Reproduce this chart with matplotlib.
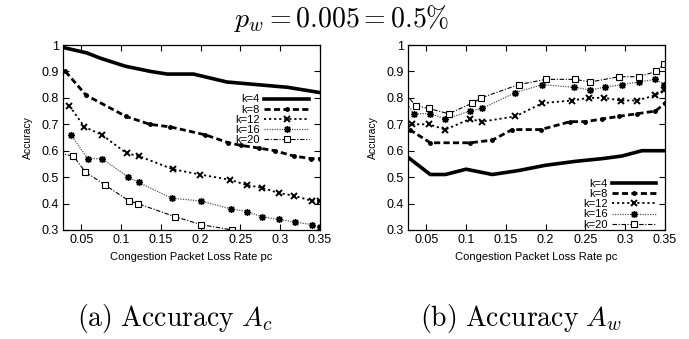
import matplotlib
matplotlib.use("Agg")
import matplotlib.pyplot as plt

plt.rcParams["font.family"] = ["Liberation Sans", "DejaVu Sans"]
plt.rcParams["mathtext.fontset"] = "cm"

# ---- (a) Accuracy A_c ----
ac_x_k4 = [0.028, 0.057, 0.074, 0.105, 0.137, 0.158, 0.191, 0.233, 0.271, 0.309, 0.35]
ac_k4 = [0.99, 0.97, 0.95, 0.92, 0.90, 0.89, 0.89, 0.86, 0.85, 0.84, 0.82]
ac_x_k8 = [0.030, 0.056, 0.106, 0.136, 0.162, 0.206, 0.235, 0.251, 0.273, 0.293, 0.317, 0.339, 0.35]
ac_k8 = [0.90, 0.81, 0.73, 0.70, 0.69, 0.66, 0.63, 0.62, 0.61, 0.60, 0.58, 0.57, 0.57]
ac_x_k12 = [0.035, 0.054, 0.076, 0.107, 0.122, 0.165, 0.199, 0.237, 0.258, 0.277, 0.298, 0.317, 0.340, 0.35]
ac_k12 = [0.77, 0.69, 0.66, 0.59, 0.58, 0.53, 0.51, 0.49, 0.47, 0.46, 0.44, 0.43, 0.41, 0.41]
ac_x_k16 = [0.037, 0.058, 0.076, 0.109, 0.122, 0.164, 0.200, 0.238, 0.258, 0.277, 0.298, 0.319, 0.340, 0.35]
ac_k16 = [0.66, 0.57, 0.57, 0.50, 0.48, 0.42, 0.41, 0.38, 0.37, 0.35, 0.34, 0.33, 0.32, 0.31]
ac_x_k20 = [0.022, 0.040, 0.055, 0.080, 0.110, 0.121, 0.168, 0.201, 0.240, 0.258]
ac_k20 = [0.59, 0.58, 0.52, 0.47, 0.41, 0.40, 0.35, 0.32, 0.30, 0.29]

# ---- (b) Accuracy A_w ----
aw_x_k4 = [0.027, 0.055, 0.074, 0.100, 0.133, 0.166, 0.200, 0.238, 0.271, 0.296, 0.321, 0.35]
aw_k4 = [0.575, 0.51, 0.51, 0.53, 0.51, 0.525, 0.545, 0.56, 0.57, 0.58, 0.60, 0.60]
aw_x_k8 = [0.029, 0.055, 0.105, 0.133, 0.158, 0.194, 0.231, 0.250, 0.271, 0.292, 0.315, 0.338, 0.35]
aw_k8 = [0.68, 0.63, 0.63, 0.64, 0.68, 0.68, 0.71, 0.71, 0.72, 0.73, 0.74, 0.75, 0.78]
aw_x_k12 = [0.032, 0.053, 0.074, 0.105, 0.120, 0.162, 0.196, 0.233, 0.254, 0.273, 0.295, 0.315, 0.338, 0.349]
aw_k12 = [0.70, 0.70, 0.68, 0.72, 0.71, 0.73, 0.78, 0.79, 0.80, 0.80, 0.79, 0.79, 0.81, 0.83]
aw_x_k16 = [0.022, 0.034, 0.055, 0.074, 0.105, 0.120, 0.162, 0.196, 0.236, 0.256, 0.274, 0.296, 0.317, 0.338, 0.349]
aw_k16 = [0.80, 0.74, 0.74, 0.72, 0.75, 0.76, 0.82, 0.85, 0.84, 0.83, 0.84, 0.85, 0.86, 0.87, 0.85]
aw_x_k20 = [0.022, 0.037, 0.053, 0.078, 0.108, 0.119, 0.166, 0.200, 0.237, 0.256, 0.292, 0.317, 0.339, 0.349]
aw_k20 = [0.82, 0.77, 0.76, 0.74, 0.78, 0.80, 0.85, 0.87, 0.87, 0.86, 0.88, 0.88, 0.90, 0.93]

labels = ["k=4", "k=8", "k=12", "k=16", "k=20"]
x_ticks = [0.05, 0.1, 0.15, 0.2, 0.25, 0.3, 0.35]
x_tick_labels = ["0.05", "0.1", "0.15", "0.2", "0.25", "0.3", "0.35"]
y_ticks = [0.3, 0.4, 0.5, 0.6, 0.7, 0.8, 0.9, 1.0]
y_tick_labels = ["0.3", "0.4", "0.5", "0.6", "0.7", "0.8", "0.9", "1"]

styles = [
    dict(color="black", lw=2.6, ls="-", marker=None),
    dict(color="black", lw=2.0, ls=(0, (2.2, 1.2)), marker="o", ms=2.5),
    dict(color="black", lw=1.3, ls=(0, (1.2, 1.6)), marker="x", ms=4.5, mew=1.4),
    dict(color="#555555", lw=0.9, ls=(0, (1, 1)), marker=(8, 2, 0), ms=5, mew=1.0, mec="black"),
    dict(color="black", lw=0.8, ls=(0, (4, 1.5, 1, 1.5)), marker="s", ms=4.5, mfc="white", mew=0.8),
]

W, H = 689, 339
fig = plt.figure(figsize=(W / 100, H / 100), dpi=100)

legend_anchor = {"upper right": (0.965, 0.745), "lower right": (0.975, -0.01)}


def make_axes(left_px, legend_loc, xs, ys):
    ax = fig.add_axes([left_px / W, 1 - 230 / H, 257 / W, 185 / H])
    handles = []
    for x, y, lab, st in zip(xs, ys, labels, styles):
        h, = ax.plot(x, y, label=lab, **st)
        handles.append(h)
    ax.set_xlim(0.027, 0.35)
    ax.set_ylim(0.3, 1.0)
    ax.set_xticks(x_ticks)
    ax.set_xticklabels(x_tick_labels)
    ax.set_yticks(y_ticks)
    ax.set_yticklabels(y_tick_labels)
    ax.tick_params(direction="in", top=True, right=True, length=4, width=0.8,
                   labelsize=9, pad=3)
    for s in ax.spines.values():
        s.set_linewidth(0.9)
    ax.set_xlabel("Congestion Packet Loss Rate pc", fontsize=8, labelpad=4)
    ax.set_ylabel("Accuracy", fontsize=7.5, labelpad=6)
    ax.legend(handles=handles, loc=legend_loc, bbox_to_anchor=legend_anchor[legend_loc],
              frameon=False, markerfirst=False, fontsize=8, handlelength=4.0,
              labelspacing=0.02, handletextpad=0.4, borderpad=0.2, borderaxespad=0.0)
    return ax


ax1 = make_axes(63, "upper right",
                [ac_x_k4, ac_x_k8, ac_x_k12, ac_x_k16, ac_x_k20],
                [ac_k4, ac_k8, ac_k12, ac_k16, ac_k20])
ax2 = make_axes(408, "lower right",
                [aw_x_k4, aw_x_k8, aw_x_k12, aw_x_k16, aw_x_k20],
                [aw_k4, aw_k8, aw_k12, aw_k16, aw_k20])

fig.text(342 / W, 1 - 27 / H, r"$p_w = 0.005 = 0.5\%$", ha="center", va="baseline", fontsize=20)
fig.text(175 / W, 1 - 326 / H, r"$\mathrm{(a)\ Accuracy}\ A_c$", ha="center", va="baseline", fontsize=20)
fig.text(521 / W, 1 - 326 / H, r"$\mathrm{(b)\ Accuracy}\ A_w$", ha="center", va="baseline", fontsize=20)

fig.savefig("out.png", dpi=100)
